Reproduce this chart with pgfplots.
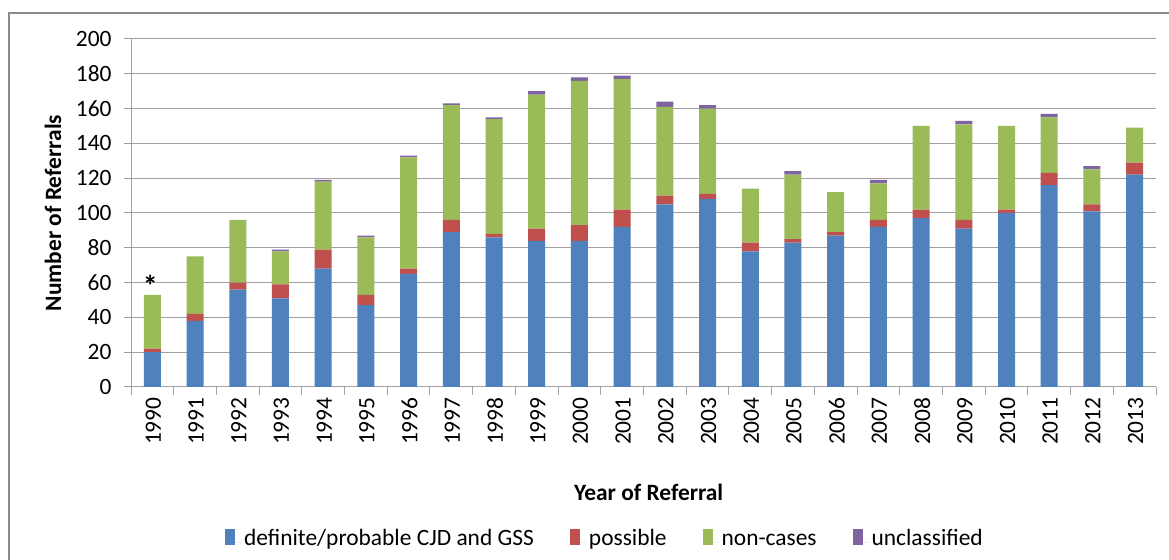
\documentclass[border=0pt]{standalone}
\usepackage{pgfplots}
\pgfplotsset{compat=1.18}
\usepackage{fontspec}
\setmainfont{Carlito}
\definecolor{cblue}{HTML}{4F81BD}
\definecolor{cred}{HTML}{C0504D}
\definecolor{cgreen}{HTML}{9BBB59}
\definecolor{cpurple}{HTML}{8064A2}
\definecolor{gridc}{HTML}{A0A0A0}
\definecolor{framec}{HTML}{8A8A8A}
\begin{document}
\begin{tikzpicture}
\useasboundingbox (0,0) rectangle (1169bp,560bp);
\clip (0,0) rectangle (1169bp,560bp);
\fill[white] (0,0) rectangle (1169bp,560bp);
\draw[framec, line width=2.2bp] (9bp,-20bp) -- (9bp,547bp) -- (1190bp,547bp);
\begin{axis}[
  at={(131bp,173bp)}, anchor=south west,
  scale only axis, width=1025bp, height=348bp,
  font=\fontsize{23.5}{27}\selectfont,
  /pgf/number format/assume math mode=true,
  ybar stacked, bar width=17bp,
  xmin=-0.5, xmax=23.5, ymin=0, ymax=200,
  ytick={0,20,...,200},
  xtick={0,...,23},
  xticklabels={1990,1991,1992,1993,1994,1995,1996,1997,1998,1999,2000,2001,2002,2003,2004,2005,2006,2007,2008,2009,2010,2011,2012,2013},
  minor xtick={-0.5,0.5,...,23.5},
  axis x line*=bottom, axis y line*=left,
  axis line style={gridc, line width=1bp},
  tick align=outside,
  major tick length=7bp, minor tick length=8bp,
  major x tick style={draw=none},
  minor x tick style={draw=gridc, line width=1bp},
  ytick style={draw=gridc, line width=1bp},
  ymajorgrids, grid style={gridc, line width=1bp},
  xticklabel style={rotate=90, anchor=east, yshift=-1bp},
  yticklabel style={xshift=-9bp},
  ylabel={\textbf{Number of Referrals}},
  ylabel style={at={(axis description cs:-0.0761,0.5)}, anchor=center},
  xlabel={\textbf{Year of Referral}},
  xlabel style={at={(axis description cs:0.505,-0.302)}, anchor=center},
  legend columns=4,
  legend style={draw=none, fill=none, at={(0.4624,-0.437)}, anchor=center,
    font=\fontsize{23.5}{27}\selectfont,
    nodes={text height=0.7em, text depth=0.22em, inner xsep=2bp},
    /tikz/column sep=0bp},
  legend image code/.code={\fill[#1] (0bp,-2bp) rectangle (10bp,14bp); \path (0bp,0bp) -- (17bp,0bp);},
]
\addplot+[draw=none, fill=cblue] coordinates {(0,20) (1,38) (2,56) (3,51) (4,68) (5,47) (6,65) (7,89) (8,86) (9,84) (10,84) (11,92) (12,105) (13,108) (14,78) (15,83) (16,87) (17,92) (18,97) (19,91) (20,100) (21,116) (22,101) (23,122)};
\addplot+[draw=none, fill=cred] coordinates {(0,2) (1,4) (2,4) (3,8) (4,11) (5,6) (6,3) (7,7) (8,2) (9,7) (10,9) (11,10) (12,5) (13,3) (14,5) (15,2) (16,2) (17,4) (18,5) (19,5) (20,2) (21,7) (22,4) (23,7)};
\addplot+[draw=none, fill=cgreen] coordinates {(0,31) (1,33) (2,36) (3,19) (4,39) (5,33) (6,64) (7,66) (8,66) (9,77) (10,83) (11,75) (12,51) (13,49) (14,31) (15,37) (16,23) (17,21) (18,48) (19,55) (20,48) (21,32) (22,20) (23,20)};
\addplot+[draw=none, fill=cpurple] coordinates {(0,0) (1,0) (2,0) (3,1) (4,1) (5,1) (6,1) (7,1) (8,1) (9,2) (10,2) (11,2) (12,3) (13,2) (14,0) (15,2) (16,0) (17,2) (18,0) (19,2) (20,0) (21,2) (22,2) (23,0)};
\legend{definite/probable CJD and GSS\hspace*{34bp},possible\hspace*{34bp},non-cases\hspace*{34bp},unclassified}
\node[font=\fontsize{30}{32}\selectfont\bfseries, anchor=south, inner sep=0pt] at (axis cs:-0.05,52) {*};
\end{axis}
\end{tikzpicture}
\end{document}
